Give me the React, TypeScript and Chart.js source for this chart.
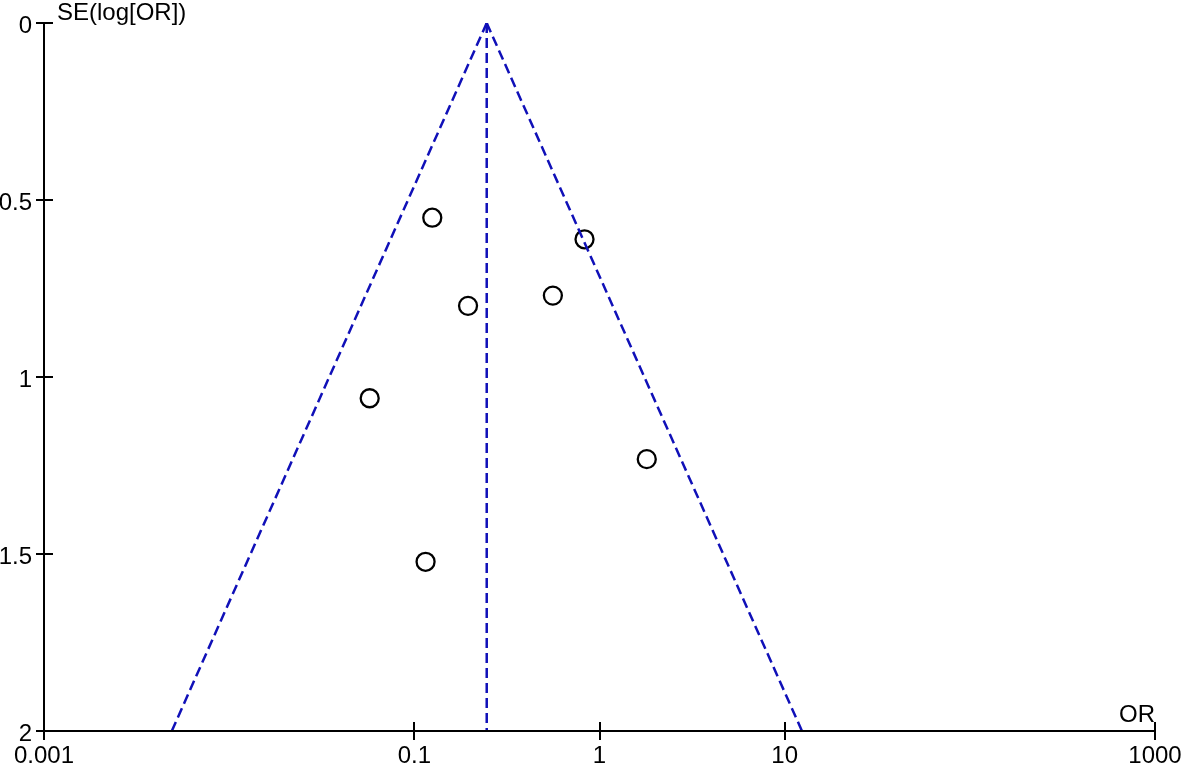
import React, { useEffect, useRef } from "react";
import { Chart, registerables } from "chart.js";

Chart.register(...registerables);

// Study estimates (odds ratio and standard error of log OR)
const studyOR = [0.125, 0.195, 0.56, 0.83, 0.0574, 0.115, 1.8];
const studySE = [0.55, 0.799, 0.77, 0.611, 1.06, 1.522, 1.232];

// Pooled estimate and funnel (pseudo 95% CI) limits
const pooledOR = 0.246;
const funnelSE = [0, 2];
const funnelLeftOR = [0.246, 0.0049];
const funnelRightOR = [0.246, 12.4];

// Axes
const xTickValues = [0.001, 0.1, 1, 10, 1000];
const xTickLabels = ["0.001", "0.1", "1", "10", "1000"];
const yTickValues = [0, 0.5, 1, 1.5, 2];
const yTickLabels = ["0", "0.5", "1", "1.5", "2"];
const yAxisTitle = "SE(log[OR])";
const xAxisTitle = "OR";

const FONT = "'Liberation Sans', Arial, sans-serif";
const BLUE = "#1010b8";

const axesPlugin = {
  id: "funnelAxes",
  afterDraw(chart: any) {
    const { ctx, chartArea } = chart;
    const xs = chart.scales.x;
    const ys = chart.scales.y;
    ctx.save();
    ctx.strokeStyle = "#000";
    ctx.lineWidth = 2;
    ctx.beginPath();
    ctx.moveTo(chartArea.left, chartArea.top);
    ctx.lineTo(chartArea.left, chartArea.bottom);
    ctx.moveTo(chartArea.left, chartArea.bottom);
    ctx.lineTo(chartArea.right, chartArea.bottom);
    for (const v of yTickValues) {
      const py = Math.round(ys.getPixelForValue(v));
      ctx.moveTo(chartArea.left - 8, py);
      ctx.lineTo(chartArea.left + 9, py);
    }
    for (const v of xTickValues) {
      const px = Math.round(xs.getPixelForValue(v));
      ctx.moveTo(px, chartArea.bottom - 9);
      ctx.lineTo(px, chartArea.bottom + 9);
    }
    ctx.stroke();
    ctx.fillStyle = "#000";
    ctx.font = `24px ${FONT}`;
    ctx.textBaseline = "middle";
    ctx.textAlign = "left";
    ctx.fillText(yAxisTitle, chartArea.left + 13, 13);
    ctx.fillText(xAxisTitle, chartArea.right - 36, chartArea.bottom - 16);
    ctx.restore();
  },
};

export default function App() {
  const ref = useRef<HTMLCanvasElement | null>(null);
  useEffect(() => {
    if (!ref.current) return;
    const lineStyle = {
      type: "line",
      borderColor: BLUE,
      borderWidth: 2.5,
      borderDash: [10, 5],
      pointRadius: 0,
      fill: false,
    };
    const chart = new Chart(ref.current, {
      type: "scatter",
      data: {
        datasets: [
          {
            ...lineStyle,
            label: "left limit",
            data: funnelSE.map((s, i) => ({ x: funnelLeftOR[i], y: s })),
          },
          {
            ...lineStyle,
            label: "right limit",
            data: funnelSE.map((s, i) => ({ x: funnelRightOR[i], y: s })),
          },
          {
            ...lineStyle,
            label: "pooled",
            data: funnelSE.map((s) => ({ x: pooledOR, y: s })),
          },
          {
            label: "studies",
            data: studyOR.map((o, i) => ({ x: o, y: studySE[i] })),
            pointStyle: "circle",
            pointRadius: 9,
            borderColor: "#000",
            borderWidth: 2.3,
            backgroundColor: "rgba(0,0,0,0)",
            showLine: false,
          },
        ],
      },
      options: {
        animation: false,
        responsive: false,
        maintainAspectRatio: false,
        layout: { padding: { top: 23, right: 26, left: 0, bottom: 0 } },
        plugins: { legend: { display: false }, tooltip: { enabled: false } },
        scales: {
          x: {
            type: "logarithmic",
            min: 0.001,
            max: 1000,
            grid: { display: false, drawTicks: false },
            border: { display: false },
            afterBuildTicks: (s: any) => {
              s.ticks = xTickValues.map((v) => ({ value: v }));
            },
            afterFit: (s: any) => {
              s.height = 32;
              s.paddingLeft = 0;
              s.paddingRight = 0;
            },
            ticks: {
              autoSkip: false,
              maxRotation: 0,
              padding: 11,
              color: "#000",
              font: { family: FONT, size: 24 },
              callback: (v: any) => {
                const i = xTickValues.indexOf(Number(v));
                return i >= 0 ? xTickLabels[i] : "";
              },
            },
          },
          y: {
            type: "linear",
            min: 0,
            max: 2,
            reverse: true,
            grid: { display: false, drawTicks: false },
            border: { display: false },
            afterBuildTicks: (s: any) => {
              s.ticks = yTickValues.map((v) => ({ value: v }));
            },
            afterFit: (s: any) => {
              s.width = 44;
              s.paddingTop = 0;
              s.paddingBottom = 0;
            },
            ticks: {
              autoSkip: false,
              padding: 12,
              labelOffset: 3,
              color: "#000",
              font: { family: FONT, size: 24 },
              callback: (v: any) => {
                const i = yTickValues.indexOf(Number(v));
                return i >= 0 ? yTickLabels[i] : "";
              },
            },
          },
        },
      },
      plugins: [axesPlugin],
    } as any);
    return () => chart.destroy();
  }, []);
  return (
    <div style={{ position: "absolute", left: 0, top: 0, width: 1181, height: 763, background: "#fff" }}>
      <canvas ref={ref} width={1181} height={763} style={{ width: 1181, height: 763 }} />
    </div>
  );
}
